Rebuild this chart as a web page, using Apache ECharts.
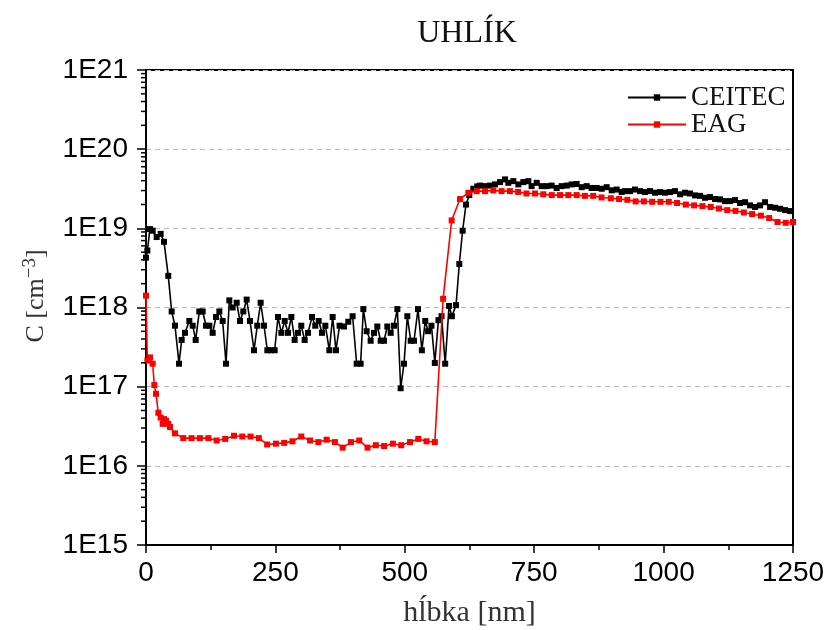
<!DOCTYPE html>
<html>
<head>
<meta charset="utf-8">
<script src="https://cdn.jsdelivr.net/npm/echarts@6/dist/echarts.min.js"></script>
<style>html,body{margin:0;padding:0;background:#fff;}#c{width:829px;height:630px;}</style>
</head>
<body>
<div id="c"></div>
<script>
// ---- data (depth in nm, concentration as log10 exponent) ----
const ceitecDepth = [0,2.6,7.7,12.9,20.6,28.3,34.8,43,49.6,56,63.8,68.9,75.3,83.7,90.2,96,103,109.5,116,122.4,128.8,135.2,141.7,148.1,154.6,161,167.4,175.2,181.6,188,194.5,200.9,208.7,215,221.5,228,234.4,241,248.6,255,261.5,268,274.3,280.8,287.2,293.7,300,306.5,313,320.7,327,333.6,340,346.5,354.2,360.6,367,374,382.4,390.8,399.2,407,414.7,419.9,426.3,434,440.5,446.9,453.4,459.8,466.2,472.7,479.1,485.6,492,498.5,504.9,511.4,517.8,525.5,533,539.5,545,551.5,558,565,571,578,585.5,591,599,605.3,611.7,618.2,624.6,632.4,640,645.3,655,664.6,674.3,684,693.6,700,709.7,719.4,729,738.7,745,754.8,764.4,774,783.8,793.4,803,812.8,822.4,832,841.7,851.4,861,870.7,880.4,890,899.7,909.4,919,925.5,935.2,944.8,954.5,964.1,973.8,983.5,993.1,1002.8,1012.5,1022.1,1031.8,1041.4,1051.1,1060.8,1070.4,1080.1,1089.7,1099.4,1109.1,1118.7,1128.4,1138,1147.7,1157.4,1167,1176.7,1186.4,1196,1205.7,1215.4,1225,1234.7,1244.4];
const ceitecLogC = [18.63,18.72,18.99,18.97,18.89,18.93,18.83,18.40,17.95,17.77,17.29,17.59,17.68,17.83,17.77,17.59,17.95,17.95,17.77,17.77,17.68,17.88,17.95,17.83,17.29,18.09,18.00,18.06,17.83,17.95,18.10,17.83,17.46,17.77,18.06,17.77,17.46,17.46,17.46,17.88,17.68,17.83,17.68,17.88,17.59,17.68,17.77,17.59,17.68,17.88,17.77,17.83,17.68,17.77,17.46,17.88,17.46,17.77,17.76,17.82,17.89,17.29,17.29,17.98,17.70,17.58,17.68,17.76,17.58,17.58,17.76,17.68,17.77,17.98,16.98,17.29,17.89,17.58,17.58,17.98,17.46,17.83,17.70,17.77,17.30,17.84,17.89,17.29,18.02,17.89,18.03,18.55,18.97,19.30,19.42,19.50,19.53,19.54,19.533,19.54,19.555,19.584,19.618,19.575,19.596,19.555,19.584,19.596,19.533,19.575,19.533,19.533,19.54,19.51,19.533,19.54,19.555,19.56,19.52,19.533,19.51,19.51,19.50,19.52,19.48,19.49,19.46,19.47,19.47,19.49,19.47,19.458,19.47,19.45,19.458,19.45,19.458,19.47,19.43,19.45,19.44,19.416,19.41,19.386,19.395,19.37,19.366,19.344,19.344,19.357,19.32,19.33,19.29,19.27,19.29,19.33,19.27,19.26,19.247,19.23,19.218];

const eagDepth = [0,2.6,7.7,12.9,16,19.3,23.8,28.3,32.2,34.8,38.6,43,46.4,56,72,88,104,120.4,136.5,153,170,186,202,218,234,251,267,283,300,317,333,349,365,380,396,412,428,444,460,477,493,510,526,542,558,574,590.5,606.6,622.8,639,655,671,687,703,719,735,751.5,767.6,784,800,816,832,848,864,880,898,914,930,946,962,978,994,1010,1026,1043,1059,1075,1091,1107,1123,1139,1155,1171,1188,1204,1220,1236,1250];
const eagLogC = [18.15,17.33,17.37,17.29,17.02,16.91,16.67,16.61,16.53,16.59,16.57,16.53,16.49,16.41,16.35,16.35,16.35,16.35,16.32,16.34,16.38,16.37,16.37,16.35,16.27,16.28,16.29,16.31,16.37,16.32,16.30,16.33,16.30,16.23,16.30,16.32,16.23,16.26,16.25,16.28,16.26,16.30,16.34,16.31,16.30,18.11,19.10,19.37,19.45,19.47,19.47,19.48,19.47,19.47,19.46,19.44,19.44,19.43,19.42,19.42,19.42,19.42,19.41,19.41,19.39,19.38,19.37,19.36,19.34,19.34,19.335,19.335,19.335,19.32,19.30,19.29,19.28,19.27,19.25,19.23,19.22,19.20,19.18,19.16,19.13,19.08,19.07,19.08];

const xTicks = [0,250,500,750,1000,1250];
const yDecades = [15,16,17,18,19,20,21];
const minorMantissas = [2,3,4,5,6,7,8,9];

// ---- build ----
const toPairs = (xs, ls) => xs.map((x, i) => [x, Math.pow(10, ls[i])]);
const minorTickData = [];
yDecades.slice(0, -1).forEach(d => minorMantissas.forEach(m => minorTickData.push([0, m * Math.pow(10, d)])));

const serif = '"Liberation Serif", "DejaVu Serif", serif';
const sans = '"Liberation Sans", Arial, sans-serif';

const chart = echarts.init(document.getElementById('c'));
chart.setOption({
  animation: false,
  backgroundColor: '#fff',
  title: {
    text: 'UHLÍK', left: 462, top: 13, textAlign: 'center',
    textStyle: { fontFamily: serif, fontSize: 32, fontWeight: 'normal', color: '#111' }
  },
  legend: {
    data: ['CEITEC', 'EAG'], orient: 'vertical', left: 622, top: 79,
    itemWidth: 58, itemHeight: 8, itemGap: 0,
    textStyle: { fontFamily: serif, fontSize: 27, color: '#111', lineHeight: 26, padding: [0, 0, 0, 0] }
  },
  grid: { left: 146, right: 36, top: 70, bottom: 85, outerBoundsMode: 'none', containLabel: false,
          show: true, borderColor: '#000', borderWidth: 2, backgroundColor: 'transparent' },
  xAxis: {
    type: 'value', min: 0, max: 1250, interval: 250,
    name: 'hĺbka [nm]', nameLocation: 'middle', nameGap: 53,
    nameTextStyle: { fontFamily: serif, fontSize: 30, color: '#333' },
    axisLine: { show: true, onZero: false, lineStyle: { color: '#000', width: 2 } },
    axisTick: { show: true, length: 8, lineStyle: { color: '#000', width: 1.5 } },
    minorTick: { show: true, splitNumber: 2, length: 5, lineStyle: { color: '#000', width: 1.5 } },
    splitLine: { show: false },
    axisLabel: { margin: 14, fontFamily: sans, fontSize: 28, color: '#000',
      formatter: v => xTicks.includes(v) ? String(v) : '' }
  },
  yAxis: {
    type: 'log', logBase: 10, min: 1e15, max: 1e21, interval: 1,
    axisLine: { show: true, lineStyle: { color: '#000', width: 2 } },
    axisTick: { show: true, length: 9, lineStyle: { color: '#000', width: 1.5 } },
    splitLine: { show: true, lineStyle: { color: '#bbb', type: [5, 4], width: 1 } },
    axisLabel: { margin: 18, fontFamily: sans, fontSize: 28, color: '#000',
      formatter: v => '1E' + Math.round(Math.log10(v)) }
  },
  series: [
    {
      name: 'CEITEC', type: 'line', data: toPairs(ceitecDepth, ceitecLogC),
      symbol: 'rect', symbolSize: 6, showAllSymbol: true,
      lineStyle: { color: '#000', width: 1.6 }, itemStyle: { color: '#000' }, z: 3
    },
    {
      name: 'EAG', type: 'line', data: toPairs(eagDepth, eagLogC),
      symbol: 'rect', symbolSize: 6, showAllSymbol: true,
      lineStyle: { color: '#ff0000', width: 1.6 }, itemStyle: { color: '#ff0000' }, z: 4
    },
    {
      name: 'minorTicks', type: 'custom', data: minorTickData, clip: false, silent: true, z: 5,
      encode: { x: 0, y: 1 },
      renderItem: (params, api) => {
        const p = api.coord([0, api.value(1)]);
        return { type: 'line', shape: { x1: p[0] - 5, y1: p[1], x2: p[0], y2: p[1] },
                 style: { stroke: '#000', lineWidth: 1.5 } };
      }
    }
  ],
  graphic: [
    {
      type: 'text', x: 36, y: 296, rotation: Math.PI / 2, silent: true,
      style: {
        text: '{b|C [cm}{s|−3}{b|]}', fontFamily: serif, fontSize: 26, fill: '#333',
        rich: { b: { fontFamily: serif, fontSize: 26, fill: '#333' },
                s: { fontFamily: serif, fontSize: 19, fill: '#333', padding: [0, 0, 11, 0] } },
        align: 'center', verticalAlign: 'middle'
      }
    }
  ]
});
</script>
</body>
</html>
